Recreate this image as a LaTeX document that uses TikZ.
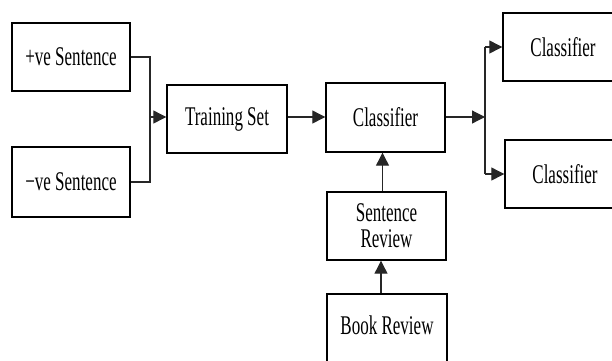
\documentclass[tikz,border=0pt]{standalone}
\usepackage{fontspec}
\setmainfont{Liberation Serif}[FakeStretch=0.63]
\usetikzlibrary{arrows.meta}
\begin{document}
\begin{tikzpicture}[x=1pt,y=-1pt,
  box/.style={draw=black,line width=1.4pt,minimum width=#1,minimum height=68pt,inner sep=0pt,
    font=\fontsize{27}{27}\selectfont,align=center},
  box/.default=118pt,
  conn/.style={line width=1.2pt,draw=black!85},
  arr/.style={conn,-{Triangle[length=13pt,width=13pt]}}]
\useasboundingbox (0,0) rectangle (612,360);
\clip (0,0) rectangle (612,360);
\node[box=118pt] (pos) at (71,57) {+ve Sentence};
\node[box=118pt,minimum height=70pt] (neg) at (71,182) {−ve Sentence};
\node[box=120pt] (train) at (227,119) {Training Set};
\node[box=119pt,minimum height=69pt] (cls) at (385.5,117.5) {Classifier};
\node[box=120pt] (c1) at (563,47) {Classifier};
\node[box=120pt] (c2) at (565,174) {Classifier};
\node[box=119pt] (sr) at (386.5,226) {Sentence\\[-1pt]Review};
\node[box=120pt] (br) at (387,328) {\raisebox{6pt}{Book Review}};
\coordinate (fl) at (150,117);
\coordinate (fr) at (485,117);
\draw[conn] (pos.east) -| (fl) |- (neg.east);
\draw[arr] (fl) -- (train.west |- fl);
\draw[arr] (train.east |- fl) -- (cls.west |- fl);
\draw[arr] (cls.east |- fr) -- (fr);
\draw[conn] (fr |- c1.west) -- (fr |- c2.west);
\draw[arr] (fr |- c1.west) -- (c1.west);
\draw[arr] (fr |- c2.west) -- (c2.west);
\draw[arr] ([xshift=-4pt]sr.north) -- ([xshift=-4pt]sr.north |- cls.south);
\draw[arr] ([xshift=-6pt]br.north) -- ([xshift=-6pt]br.north |- sr.south);
\end{tikzpicture}
\end{document}
